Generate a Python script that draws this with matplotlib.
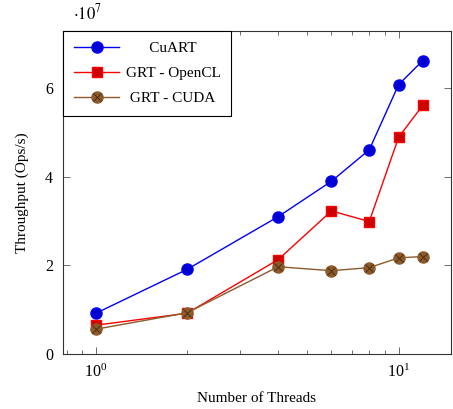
import matplotlib.pyplot as plt
from matplotlib.ticker import FuncFormatter, LogLocator, NullFormatter

plt.rcParams['font.family'] = ['Liberation Serif', 'DejaVu Serif']
plt.rcParams['mathtext.fontset'] = 'stix'

# Data (throughput in ops/s)
threads = [1, 2, 4, 6, 8, 10, 12]
cuart = [0.92e7, 1.91e7, 3.10e7, 3.90e7, 4.61e7, 6.08e7, 6.62e7]
grt_opencl = [0.65e7, 0.92e7, 2.13e7, 3.23e7, 2.99e7, 4.89e7, 5.61e7]
grt_cuda = [0.56e7, 0.93e7, 1.97e7, 1.88e7, 1.95e7, 2.17e7, 2.20e7]
labels = ['CuART', 'GRT - OpenCL', 'GRT - CUDA']

brown = '#8c5a2b'
fig = plt.figure(figsize=(4.53, 4.09), dpi=100)
ax = fig.add_axes([0.139, 0.1345, 0.8566, 0.7895])

h1, = ax.plot(threads, cuart, color='blue', lw=1.0, marker='o', ms=8,
              mfc='#0000d0', mec='blue')
h2, = ax.plot(threads, grt_opencl, color='red', lw=1.0, marker='s', ms=7.5,
              mfc='#cc0000', mec='red')
h3, = ax.plot(threads, grt_cuda, color=brown, lw=1.0, marker='o', ms=8,
              mfc=brown, mec=brown)
hx, = ax.plot(threads, grt_cuda, ls='none', marker='x', ms=5.5, mec='#4a2f14', mew=0.7)

ax.set_xscale('log')
ax.set_xlim(0.778, 14.9)
ax.set_ylim(0, 7.29e7)
ax.set_yticks([0, 2e7, 4e7, 6e7])
ax.yaxis.set_major_formatter(FuncFormatter(lambda v, p: f"{v/1e7:g}"))
ax.xaxis.set_major_locator(LogLocator(base=10))
ax.xaxis.set_minor_locator(LogLocator(base=10, subs=range(2, 10)))
ax.xaxis.set_minor_formatter(NullFormatter())

ax.tick_params(which='both', direction='in', top=True, right=True, labelsize=11.5)
ax.tick_params(axis='x', which='both', pad=7)
ax.tick_params(axis='y', which='both', pad=7)
ax.tick_params(which='major', length=5, width=0.6, color='#555555')
ax.tick_params(which='minor', length=3, width=0.6, color='#555555')
for s in ax.spines.values():
    s.set_linewidth(0.8)
    s.set_color('#333333')

ax.text(0.025, 1.025, r'$\cdot10^7$', transform=ax.transAxes, fontsize=12, ha='left', va='bottom')

ax.set_xlabel('Number of Threads', fontsize=11, labelpad=8)
ax.set_ylabel('Throughput (Ops/s)', fontsize=11, labelpad=12)

# center legend labels by padding with spaces
r = fig.canvas.get_renderer()
def tw(s):
    t = fig.text(0, 0, s, fontsize=11)
    w = t.get_window_extent(r).width
    t.remove()
    return w
sp = tw('a a') - tw('aa')
mw = max(tw(l) for l in labels)
padded = [' ' * int(round((mw - tw(l)) / 2 / sp)) + l for l in labels]

leg = ax.legend([h1, h2, (h3, hx)], padded, loc='upper left', fontsize=11,
                frameon=True, fancybox=False, edgecolor='black', framealpha=1,
                borderaxespad=0, handlelength=3.0, handletextpad=0.4,
                borderpad=0.7, labelspacing=0.72)
leg.get_frame().set_linewidth(0.8)

plt.savefig('out.png', dpi=100)
